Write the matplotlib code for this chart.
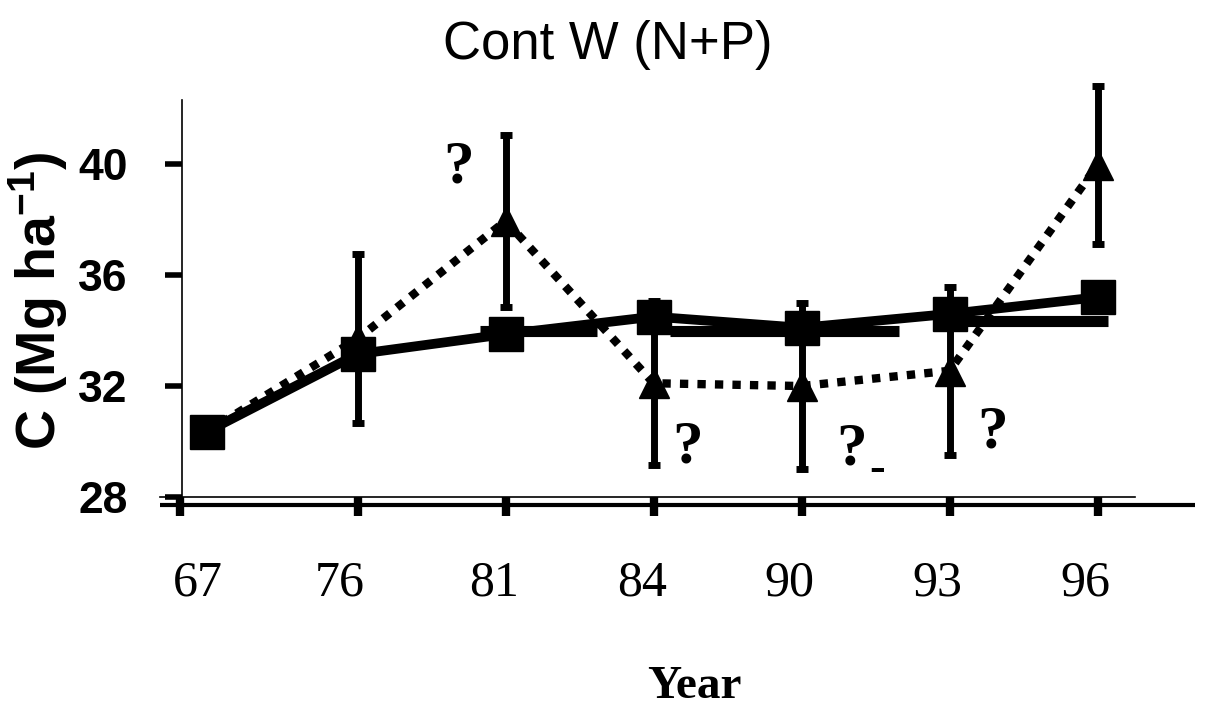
import matplotlib
matplotlib.use("Agg")
import matplotlib.pyplot as plt
from matplotlib.ticker import FixedLocator, NullFormatter

plt.rcParams['mathtext.fontset'] = 'custom'
plt.rcParams['mathtext.rm'] = 'Liberation Sans:bold'
plt.rcParams['mathtext.default'] = 'rm'

# Sampling years, tick positions and plotted positions along the x axis
years = ['67', '76', '81', '84', '90', '93', '96']
tick_pos = [0.0, 1.2, 2.2, 3.2, 4.2, 5.2, 6.2]
point_pos = [0.18, 1.2, 2.2, 3.2, 4.2, 5.2, 6.2]

# Soil C stocks (Mg ha-1)
c_square = [30.35, 33.15, 33.87, 34.5, 34.1, 34.6, 35.2]
c_triangle = [30.35, 33.7, 37.95, 32.1, 32.0, 32.55, 39.97]
c_triangle_err = [0.0, 3.05, 3.1, 2.95, 3.0, 3.03, 2.85]

# Short flat C levels drawn as heavy bars
band_from = [2.03, 3.31, 5.14]
band_to = [2.82, 4.86, 6.27]
band_level = [33.98, 33.98, 34.34]

# Question-mark flags next to uncertain values
flag_x = [1.88, 3.43, 4.54, 5.49]
flag_y = [39.86, 29.8, 29.7, 30.34]

W, H = 1210, 709
fig = plt.figure(figsize=(W / 100, H / 100), dpi=100)
ax = fig.add_axes([160 / W, (H - 497) / H, (1195 - 160) / W, (497 - 80) / H])

ax.set_xlim(-0.135, 6.858)
ax.set_ylim(28, 43.03)

# dotted series with error bars
ax.errorbar(point_pos, c_triangle, yerr=c_triangle_err, fmt='none',
            ecolor='black', elinewidth=5, capsize=4.5, capthick=5, zorder=2)
ax.plot(point_pos, c_triangle, color='black', lw=6, ls=(0, (1.0, 1.1)),
        dash_capstyle='butt', marker='^', markersize=22, zorder=3)

# heavy flat bars
for x0, x1, lvl in zip(band_from, band_to, band_level):
    ax.plot([x0, x1], [lvl, lvl], color='black', lw=8, solid_capstyle='butt', zorder=3)

# solid series with squares
ax.plot(point_pos, c_square, color='black', lw=7, marker='s', markersize=25,
        solid_joinstyle='miter', zorder=4)

# question marks
for fx, fy in zip(flag_x, flag_y):
    ax.text(fx, fy, '?', fontsize=44, fontweight='bold', family='Liberation Serif',
            ha='center', va='center', zorder=5)
ax.text(4.71, 28.97, '-', fontsize=34, fontweight='bold', family='Liberation Serif',
        ha='center', va='center', zorder=5)

# spines
for s in ('top', 'right'):
    ax.spines[s].set_visible(False)
ax.spines['left'].set_position(('data', 0.0135))
ax.spines['left'].set_bounds(28, 42.3)
ax.spines['left'].set_linewidth(1.2)
ax.spines['bottom'].set_bounds(-0.135, 6.45)
ax.spines['bottom'].set_linewidth(1.2)
ax.plot([0, 1], [-0.019, -0.019], transform=ax.transAxes, color='black',
        lw=3, clip_on=False, solid_capstyle='butt')

# y ticks
ax.set_yticks([28, 32, 36, 40])
ax.tick_params(axis='y', direction='out', length=12, width=4, pad=27)
for lab in ax.get_yticklabels():
    lab.set_fontsize(32)
    lab.set_fontweight('bold')
    lab.set_family('Liberation Sans')

# x ticks: marks at sample positions, labels slightly offset
label_pos = [0.12, 1.08, 2.12, 3.12, 4.12, 5.12, 6.12]
ax.xaxis.set_minor_locator(FixedLocator(tick_pos))
ax.xaxis.set_minor_formatter(NullFormatter())
ax.tick_params(axis='x', which='minor', direction='out', length=14, width=6)
ax.set_xticks(label_pos)
ax.set_xticklabels(years)
ax.tick_params(axis='x', which='major', length=0, pad=45)
for lab in ax.get_xticklabels():
    lab.set_fontsize(36)
    lab.set_family('Liberation Serif')

fig.text(608 / W, 1 - 45 / H, 'Cont W (N+P)', fontsize=38, family='Liberation Sans',
         ha='center', va='center')
fig.text(38 / W, 1 - 301 / H, r'C (Mg ha$^{-1}$)', fontsize=40, fontweight='bold',
         family='Liberation Sans', rotation=90, ha='center', va='center')
fig.text(694 / W, 1 - 687 / H, 'Year', fontsize=34, fontweight='bold',
         family='Liberation Serif', ha='center', va='center')

fig.savefig('out.png', dpi=100, facecolor='white')
